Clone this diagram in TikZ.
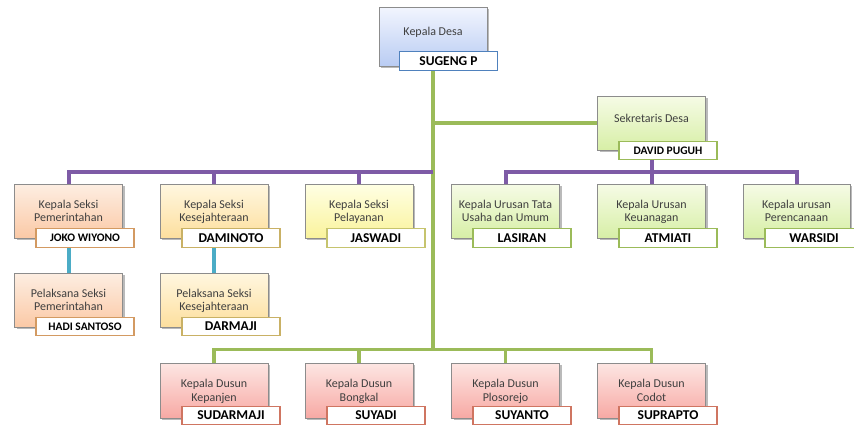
\documentclass[tikz,border=0pt]{standalone}
\usepackage{fontspec}
\setmainfont{Carlito}
\usetikzlibrary{shadows,backgrounds,calc}
\definecolor{txtgray}{HTML}{3F3F3F}
\definecolor{boxedge}{HTML}{8C8C8C}
\definecolor{lgreen}{HTML}{9BBB59}
\definecolor{lpurple}{HTML}{7E5BA6}
\definecolor{lcyan}{HTML}{4BACC6}
\definecolor{tblue}{HTML}{4F81BD}
\definecolor{tgreen}{HTML}{9BBB59}
\definecolor{torange}{HTML}{D39A62}
\definecolor{ttan}{HTML}{C9B165}
\definecolor{tyellow}{HTML}{C6C46E}
\definecolor{tred}{HTML}{CF7561}
\definecolor{gtop}{HTML}{F6FBE6}
\definecolor{gbot}{HTML}{D7EFA6}
\definecolor{ptop}{HTML}{FDEEE2}
\definecolor{pbot}{HTML}{FBC9A6}
\definecolor{ttop}{HTML}{FFF7E0}
\definecolor{tbot}{HTML}{FDDF9E}
\definecolor{ytop}{HTML}{FFFFE4}
\definecolor{ybot}{HTML}{FAF39C}
\definecolor{rtop}{HTML}{FDE6E3}
\definecolor{rbot}{HTML}{F7A9A4}
\definecolor{kdtop}{HTML}{F2F5FE}
\definecolor{kdbot}{HTML}{B9CCF3}
\tikzset{
  orgbox/.style={draw=boxedge, line width=0.8pt, minimum width=108pt, minimum height=54pt,
    inner sep=0pt, align=center, text=txtgray, font=\fontsize{12}{13.5}\selectfont,
    text depth=0pt, drop shadow={shadow xshift=2pt, shadow yshift=-2pt, fill=black!60, opacity=0.45}},
  greenbox/.style={orgbox, top color=gtop, bottom color=gbot},
  peachbox/.style={orgbox, top color=ptop, bottom color=pbot},
  tanbox/.style={orgbox, top color=ttop, bottom color=tbot},
  yellowbox/.style={orgbox, top color=ytop, bottom color=ybot},
  pinkbox/.style={orgbox, top color=rtop, bottom color=rbot},
  nametag/.style={draw, line width=1.2pt, fill=white, minimum width=98pt, minimum height=18.5pt,
    inner sep=0pt, text=black, font=\bfseries\fontsize{13.5}{14}\selectfont},
  smalltag/.style={nametag, font=\bfseries\fontsize{11.5}{12}\selectfont},
  conn/.style={line width=4pt},
}
\begin{document}
\begin{tikzpicture}[x=1pt,y=1pt]
\useasboundingbox (0,0) rectangle (854,-429);
% Kepala Desa
\node[orgbox, top color=kdtop, bottom color=kdbot, minimum height=59pt, text depth=10pt] (kd) at (433,-36.5) {Kepala Desa};
\node[nametag, draw=tblue] (kdt) at (448.5,-61) {SUGENG P};
% Sekretaris
\node[greenbox, text depth=9pt] (sek) at (651.5,-123) {Sekretaris Desa};
\node[smalltag, draw=tgreen] (sekt) at (668,-150.5) {DAVID PUGUH};
% Row 1
\node[peachbox] (b1) at (68.5,-211) {Kepala Seksi\\Pemerintahan};
\node[smalltag, draw=torange] (t1) at (85,-238) {JOKO WIYONO};
\node[tanbox] (b2) at (214,-211) {Kepala Seksi\\Kesejahteraan};
\node[nametag, draw=ttan] (t2) at (231,-238) {DAMINOTO};
\node[yellowbox] (b3) at (359,-211) {Kepala Seksi\\Pelayanan};
\node[nametag, draw=tyellow] (t3) at (376,-238) {JASWADI};
\node[greenbox] (b4) at (505.5,-211) {Kepala Urusan Tata\\Usaha dan Umum};
\node[nametag, draw=tgreen] (t4) at (522,-238) {LASIRAN};
\node[greenbox] (b5) at (651.5,-211) {Kepala Urusan\\Keuanagan};
\node[nametag, draw=tgreen] (t5) at (668,-238) {ATMIATI};
\node[greenbox, minimum width=107pt] (b6) at (796.5,-211) {Kepala urusan\\Perencanaan};
\node[nametag, draw=tgreen] (t6) at (814,-238) {WARSIDI};
% Row 2
\node[peachbox] (p1) at (68.5,-300) {Pelaksana Seksi\\Pemerintahan};
\node[smalltag, draw=torange] (pt1) at (85,-326.5) {HADI SANTOSO};
\node[tanbox] (p2) at (214,-300) {Pelaksana Seksi\\Kesejahteraan};
\node[nametag, draw=ttan] (pt2) at (231,-326.5) {DARMAJI};
% Row 3
\node[pinkbox, minimum height=55pt] (d1) at (214,-390.5) {Kepala Dusun\\Kepanjen};
\node[nametag, draw=tred] (dt1) at (231,-415.5) {SUDARMAJI};
\node[pinkbox, minimum height=55pt] (d2) at (359,-390.5) {Kepala Dusun\\Bongkal};
\node[nametag, draw=tred] (dt2) at (376,-415.5) {SUYADI};
\node[pinkbox, minimum height=55pt] (d3) at (505.5,-390.5) {Kepala Dusun\\Plosorejo};
\node[nametag, draw=tred] (dt3) at (522,-415.5) {SUYANTO};
\node[pinkbox, minimum height=55pt] (d4) at (651.5,-390.5) {Kepala Dusun\\Codot};
\node[nametag, draw=tred] (dt4) at (668,-415.5) {SUPRAPTO};
\coordinate (pl) at (0,-172);
\coordinate (dl) at (0,-349.5);
\begin{pgfonlayer}{background}
\fill[white] (0,0) rectangle (854,-429);
% green trunk
\draw[conn, lgreen] (kd.south) -- (kd.south |- dl);
\draw[conn, lgreen] (kd.south |- sek.west) -- (sek.west);
% purple
\draw[conn, lpurple] (b1.north) |- (kd.south |- pl);
\draw[conn, lpurple] (b2.north) -- (b2.north |- pl);
\draw[conn, lpurple] (b3.north) -- (b3.north |- pl);
\draw[conn, lpurple] (sek.south) -- (sek.south |- pl);
\draw[conn, lpurple] (b4.north) |- (b6.north |- pl) -- (b6.north);
\draw[conn, lpurple] (b5.north) -- (b5.north |- pl);
% cyan
\draw[conn, lcyan] (b1.south) -- (p1.north);
\draw[conn, lcyan] (b2.south) -- (p2.north);
% dusun
\draw[line width=3.5pt, lgreen] (d1.north) |- (d4.north |- dl) -- (d4.north);
\draw[line width=3.5pt, lgreen] (d2.north) -- (d2.north |- dl);
\draw[line width=3.5pt, lgreen] (d3.north) -- (d3.north |- dl);
\end{pgfonlayer}
\end{tikzpicture}
\end{document}
